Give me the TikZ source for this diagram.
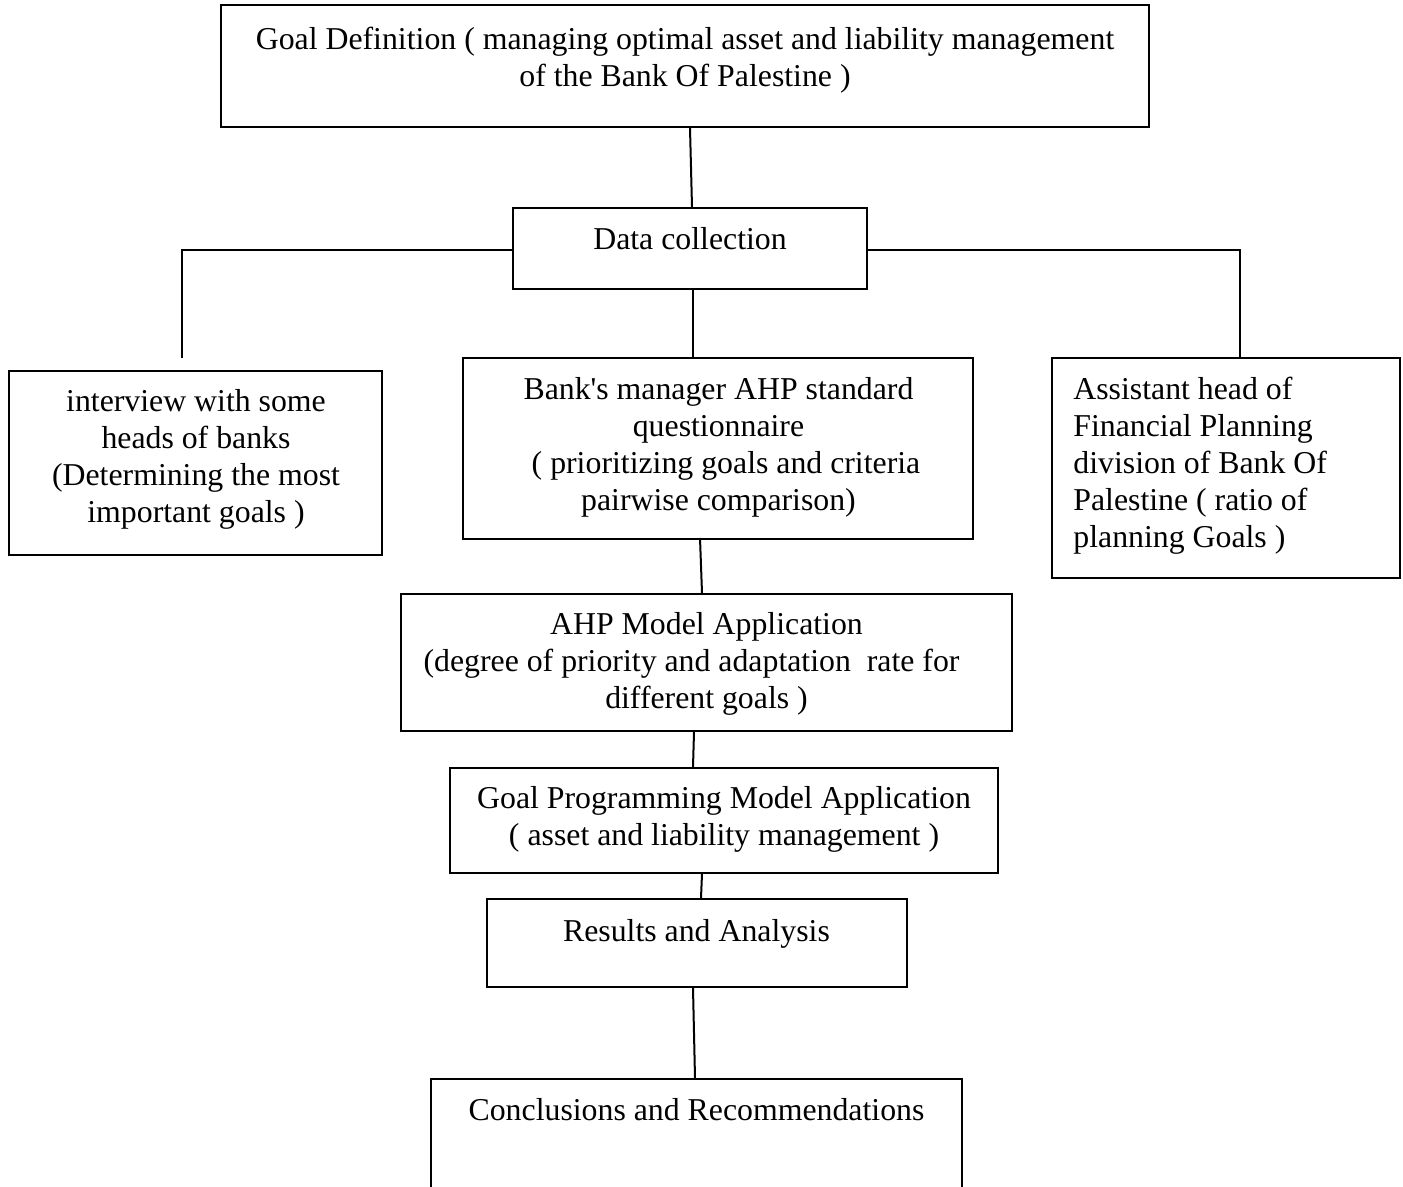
\documentclass[tikz,border=0pt]{standalone}
\usepackage{fontspec}
\setmainfont{Liberation Serif}
\begin{document}
\begin{tikzpicture}[x=0.5pt,y=-0.5pt,
  box/.style={draw=black,line width=1pt,rectangle,inner sep=0pt},
  txt/.style={inner sep=0pt,anchor=north,font=\fontsize{15.9pt}{18.5pt}\selectfont},
  conn/.style={draw=black,line width=1pt}]
\clip (0,0) rectangle (1403,1187);
\fill[white] (0,0) rectangle (1403,1187);
% boxes
\node[box,minimum width=464pt,minimum height=61pt] (goal) at (685,66) {};
\node[box,minimum width=177pt,minimum height=40.5pt] (data) at (690,248.5) {};
\node[box,minimum width=186.5pt,minimum height=92pt] (left) at (195.5,463) {};
\node[box,minimum width=255pt,minimum height=90.5pt] (mid) at (718,448.5) {};
\node[box,minimum width=174pt,minimum height=110pt] (right) at (1226,468) {};
\node[box,minimum width=305.5pt,minimum height=68.5pt] (ahp) at (706.5,662.5) {};
\node[box,minimum width=274pt,minimum height=52.5pt] (gp) at (724,820.5) {};
\node[box,minimum width=210pt,minimum height=44pt] (res) at (697,943) {};
\node[box,minimum width=265.5pt,minimum height=80pt] (conc) at (696.5,1159) {};
% texts
\node[txt,align=center] (goalt) at (685,23) {\strut Goal Definition ( managing optimal asset and liability management\\ of the Bank Of Palestine )};
\node[txt,align=center] (datat) at (690,223) {\strut Data collection};
\node[txt,align=center] (leftt) at (196,385) {\strut interview with some\\ heads of banks\\ (Determining the most\\ important goals )};
\node[txt,align=center] (midt) at (718.5,373) {\strut Bank\textquotesingle s manager AHP standard\\ questionnaire\\ \rule{7.5pt}{0pt}( prioritizing goals and criteria\\ pairwise comparison)};
\node[txt,align=left,anchor=north west] (rightt) at (1073,373) {\strut Assistant head of\\ Financial Planning\\ division of Bank Of\\ Palestine ( ratio of\\ planning Goals )};
\node[txt,align=center] (ahpt) at (706.5,608) {\strut AHP Model Application\\ (degree of priority and adaptation \ rate for\rule{15pt}{0pt}\\ different goals )};
\node[txt,align=center] (gpt) at (724,782) {\strut Goal Programming Model Application\\ ( asset and liability management )};
\node[txt,align=center] (rest) at (696.5,915) {\strut Results and Analysis};
\node[txt,align=center] (conct) at (696.5,1094) {\strut Conclusions and Recommendations};
% connectors
\coordinate (lend) at (182,358);
\draw[conn] ([xshift=2.5pt]goal.south) -- ([xshift=1pt]data.north);
\draw[conn] ([yshift=-0.75pt]data.west) -| (lend);
\draw[conn] ([yshift=-0.75pt]data.east) -| ([xshift=7pt]right.north);
\draw[conn] ([xshift=1.5pt]data.south) -- ([xshift=1.5pt]data.south |- mid.north);
\draw[conn] ([xshift=-9pt,yshift=1pt]mid.south) -- ([xshift=-2.25pt]ahp.north);
\draw[conn] ([xshift=-6.25pt]ahp.south) -- ([xshift=-15.5pt]gp.north);
\draw[conn] ([xshift=-11pt]gp.south) -- ([xshift=2pt]res.north);
\draw[conn] ([xshift=-2pt]res.south) -- ([xshift=-0.75pt]conc.north);
\end{tikzpicture}
\end{document}
